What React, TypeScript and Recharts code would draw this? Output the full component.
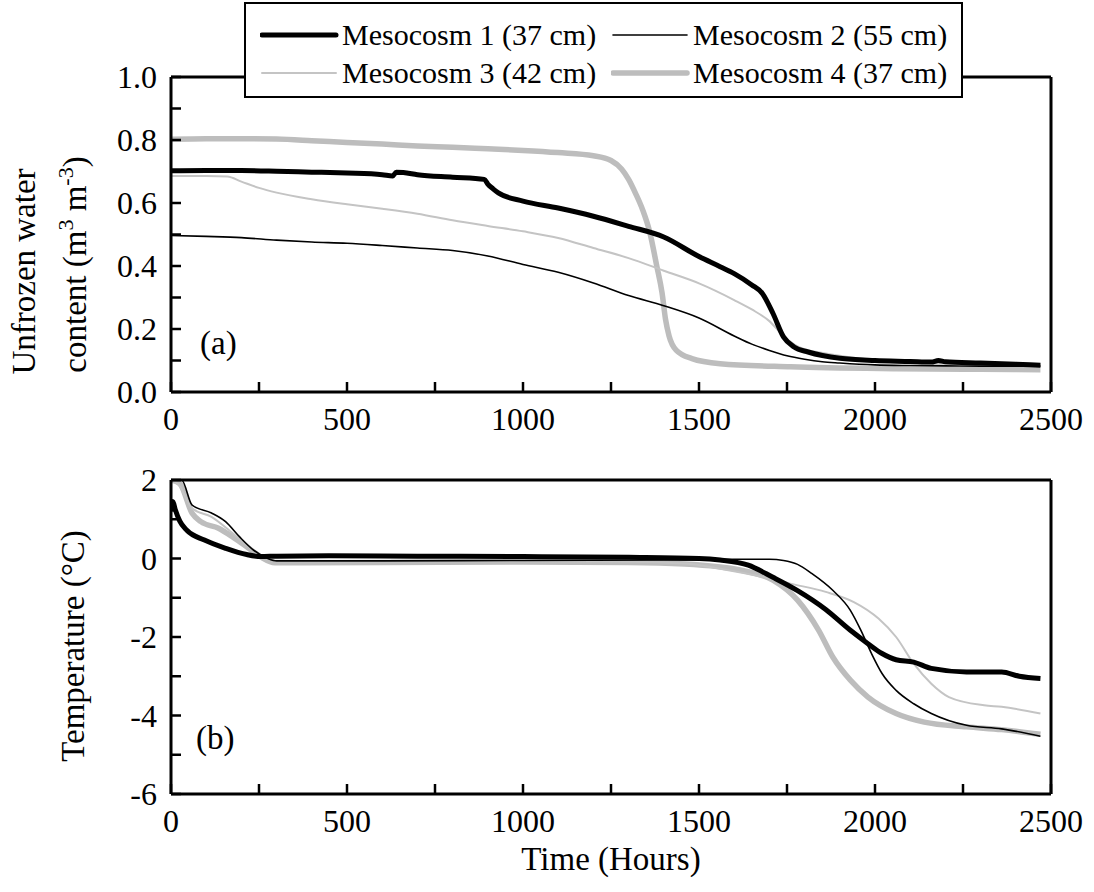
import React from 'react'
import { LineChart, Line, XAxis, YAxis, Label } from 'recharts'

// ---- axis ticks ----
const hourTicks = [0, 250, 500, 750, 1000, 1250, 1500, 1750, 2000, 2250, 2500]
const waterTicks = [0, 0.1, 0.2, 0.3, 0.4, 0.5, 0.6, 0.7, 0.8, 0.9, 1.0]
const tempTicks = [-6, -5, -4, -3, -2, -1, 0, 1, 2]

// ---- (a) unfrozen water content, m3 m-3 ----
const m1WaterHours = [0, 100, 200, 300, 400, 500, 600, 630, 640, 660, 700, 800, 890, 900, 915, 930, 1000, 1100, 1200, 1300, 1400, 1500, 1560, 1600, 1650, 1680, 1710, 1740, 1770, 1810, 1900, 2000, 2100, 2160, 2180, 2200, 2300, 2400, 2470]
const m1Water = [0.702, 0.703, 0.703, 0.701, 0.698, 0.695, 0.690, 0.686, 0.698, 0.697, 0.690, 0.682, 0.675, 0.660, 0.645, 0.632, 0.606, 0.584, 0.558, 0.526, 0.492, 0.430, 0.398, 0.376, 0.340, 0.313, 0.250, 0.175, 0.143, 0.127, 0.107, 0.100, 0.097, 0.095, 0.100, 0.096, 0.092, 0.088, 0.085]

const m2WaterHours = [0, 100, 200, 300, 400, 500, 600, 700, 800, 900, 1000, 1100, 1200, 1300, 1400, 1500, 1600, 1650, 1700, 1750, 1800, 1850, 1900, 2000, 2100, 2200, 2300, 2400, 2470]
const m2Water = [0.497, 0.494, 0.490, 0.482, 0.476, 0.472, 0.465, 0.457, 0.449, 0.432, 0.405, 0.380, 0.346, 0.306, 0.274, 0.235, 0.178, 0.152, 0.132, 0.115, 0.104, 0.096, 0.092, 0.086, 0.084, 0.083, 0.082, 0.082, 0.082]

const m3WaterHours = [0, 100, 160, 200, 250, 300, 400, 500, 600, 700, 800, 900, 1000, 1100, 1200, 1300, 1400, 1500, 1600, 1650, 1700, 1740, 1780, 1860, 1960, 2060, 2200, 2350, 2470]
const m3Water = [0.686, 0.686, 0.684, 0.668, 0.648, 0.633, 0.612, 0.596, 0.582, 0.566, 0.545, 0.527, 0.510, 0.489, 0.457, 0.425, 0.385, 0.345, 0.292, 0.262, 0.225, 0.178, 0.145, 0.122, 0.106, 0.095, 0.090, 0.087, 0.085]

const m4WaterHours = [0, 100, 200, 300, 400, 500, 600, 700, 800, 900, 1000, 1100, 1200, 1250, 1280, 1300, 1320, 1340, 1360, 1380, 1395, 1405, 1415, 1435, 1480, 1560, 1760, 2060, 2300, 2470]
const m4Water = [0.802, 0.804, 0.804, 0.803, 0.798, 0.792, 0.787, 0.781, 0.777, 0.772, 0.767, 0.760, 0.750, 0.735, 0.708, 0.675, 0.630, 0.578, 0.508, 0.400, 0.315, 0.230, 0.178, 0.133, 0.106, 0.090, 0.080, 0.074, 0.072, 0.071]

// ---- (b) temperature, deg C ----
const m1TempHours = [0, 5, 12, 25, 45, 95, 155, 215, 255, 300, 450, 700, 1000, 1300, 1500, 1560, 1640, 1710, 1780, 1860, 1930, 1980, 2020, 2060, 2110, 2160, 2260, 2360, 2410, 2470]
const m1Temp = [1.2, 1.45, 1.25, 0.95, 0.72, 0.47, 0.26, 0.10, 0.05, 0.06, 0.07, 0.06, 0.05, 0.03, 0.0, -0.04, -0.17, -0.48, -0.82, -1.30, -1.83, -2.17, -2.42, -2.58, -2.64, -2.80, -2.89, -2.89, -3.0, -3.06]

const m2TempHours = [0, 30, 60, 115, 155, 195, 235, 275, 300, 600, 1000, 1400, 1600, 1700, 1740, 1780, 1820, 1880, 1930, 1960, 1990, 2020, 2060, 2110, 2160, 2260, 2360, 2470]
const m2Temp = [2.0, 2.0, 1.36, 1.16, 0.94, 0.55, 0.21, 0.0, -0.06, -0.06, -0.05, -0.04, -0.02, -0.02, -0.05, -0.15, -0.38, -0.81, -1.32, -1.83, -2.42, -2.93, -3.36, -3.70, -3.95, -4.25, -4.34, -4.53]

const m3TempHours = [0, 20, 60, 115, 165, 215, 255, 295, 600, 1000, 1300, 1460, 1560, 1700, 1760, 1860, 1940, 2010, 2060, 2110, 2160, 2210, 2310, 2360, 2470]
const m3Temp = [2.0, 1.9, 1.28, 1.06, 0.72, 0.34, 0.09, -0.06, -0.07, -0.07, -0.08, -0.13, -0.26, -0.51, -0.64, -0.85, -1.11, -1.53, -2.00, -2.68, -3.19, -3.53, -3.74, -3.78, -3.95]

const m4TempHours = [0, 25, 60, 85, 135, 175, 215, 255, 295, 600, 1000, 1300, 1460, 1620, 1710, 1780, 1840, 1880, 1930, 1980, 2060, 2140, 2260, 2360, 2470]
const m4Temp = [2.0, 1.91, 1.15, 0.94, 0.77, 0.55, 0.30, 0.04, -0.11, -0.10, -0.09, -0.10, -0.14, -0.30, -0.55, -1.06, -1.83, -2.51, -3.10, -3.53, -3.95, -4.17, -4.29, -4.36, -4.48]

const seriesNames = ['Mesocosm 1 (37 cm)', 'Mesocosm 2 (55 cm)', 'Mesocosm 3 (42 cm)', 'Mesocosm 4 (37 cm)']

const zip = (hours: number[], values: number[]) => hours.map((t, i) => ({ t, v: values[i] }))

const styles = [
  { color: '#000000', width: 5 },
  { color: '#000000', width: 1.6 },
  { color: '#c4c4c4', width: 2 },
  { color: '#bdbdbd', width: 5.5 },
]

const waterSeries = [
  zip(m1WaterHours, m1Water),
  zip(m2WaterHours, m2Water),
  zip(m3WaterHours, m3Water),
  zip(m4WaterHours, m4Water),
]
const tempSeries = [
  zip(m1TempHours, m1Temp),
  zip(m2TempHours, m2Temp),
  zip(m3TempHours, m3Temp),
  zip(m4TempHours, m4Temp),
]

// draw order: greys underneath the blacks
const drawOrder = [3, 2, 0, 1]

const FONT = 'Liberation Serif'
const TICK = 10
const AXIS = { stroke: '#000', strokeWidth: 3 }

// ticks point inward; tickSize 0 puts x/y right on the axis line
const BottomTick = (props: any) => {
  const { x, y, payload, labelled } = props
  const v = payload.value
  return (
    <g>
      <line x1={x} x2={x} y1={y} y2={y - TICK} stroke="#000" strokeWidth={2.5} />
      {labelled && v % 500 === 0 && (
        <text x={x} y={y + 38} textAnchor="middle" style={{ fontFamily: FONT, fontSize: 32 }} fill="#000">
          {v}
        </text>
      )}
    </g>
  )
}

const TopTick = (props: any) => {
  const { x, y } = props
  return <line x1={x} x2={x} y1={y} y2={y + TICK} stroke="#000" strokeWidth={2.5} />
}

const LeftTick = (props: any) => {
  const { x, y, payload, fmt } = props
  const label = fmt(payload.value)
  return (
    <g>
      <line x1={x} x2={x + TICK} y1={y} y2={y} stroke="#000" strokeWidth={2.5} />
      {label !== null && (
        <text x={x - 14} y={y + 11} textAnchor="end" style={{ fontFamily: FONT, fontSize: 32 }} fill="#000">
          {label}
        </text>
      )}
    </g>
  )
}

const RightTick = (props: any) => {
  const { x, y } = props
  return <line x1={x} x2={x - TICK} y1={y} y2={y} stroke="#000" strokeWidth={2.5} />
}

const waterFmt = (v: number) => (Math.round(v * 10) % 2 === 0 ? v.toFixed(1) : null)
const tempFmt = (v: number) => (v % 2 === 0 ? String(v) : null)

const titleStyle = { fontFamily: FONT, fontSize: 33 }

const WaterTitle = (props: any) => {
  const { viewBox } = props
  const cy = viewBox.y + viewBox.height / 2
  return (
    <g fill="#000" style={titleStyle}>
      <text x={35} y={cy + 37} transform={`rotate(-90 35 ${cy + 37})`} textAnchor="middle">
        Unfrozen water
      </text>
      <text x={86} y={cy + 30} transform={`rotate(-90 86 ${cy + 30})`} textAnchor="middle">
        content (m
        <tspan fontSize={22} dy={-13}>3</tspan>
        <tspan dy={13}> m</tspan>
        <tspan fontSize={22} dy={-13}>-3</tspan>
        <tspan dy={13}>)</tspan>
      </text>
    </g>
  )
}

const TempTitle = (props: any) => {
  const { viewBox } = props
  const cy = viewBox.y + viewBox.height / 2 + 9
  return (
    <text x={84} y={cy} transform={`rotate(-90 84 ${cy})`} textAnchor="middle" style={titleStyle} fill="#000">
      Temperature (°C)
    </text>
  )
}

const TimeTitle = (props: any) => {
  const { viewBox } = props
  const cx = viewBox.x + viewBox.width / 2
  return (
    <text x={cx} y={viewBox.y + 76} textAnchor="middle" style={titleStyle} fill="#000">
      Time (Hours)
    </text>
  )
}

const PanelTag = ({ text, left, top }: { text: string; left: number; top: number }) => (
  <div style={{ position: 'absolute', left, top, fontFamily: FONT, fontSize: 33, lineHeight: '33px', color: '#000' }}>
    {text}
  </div>
)

const LegendBox = () => {
  const rows = [
    [0, 1],
    [2, 3],
  ]
  return (
    <div
      style={{
        position: 'absolute',
        left: 244,
        top: 2,
        width: 715,
        height: 92,
        border: '2px solid #000',
        background: '#fff',
        fontFamily: FONT,
        fontSize: 30,
        color: '#000',
      }}
    >
      {rows.map((row, r) =>
        row.map((idx, c) => (
          <div
            key={idx}
            style={{
              position: 'absolute',
              left: c === 0 ? 14 : 365,
              top: r === 0 ? 14 : 52,
              height: 34,
              display: 'flex',
              alignItems: 'center',
              whiteSpace: 'nowrap',
            }}
          >
            <svg width={80} height={34}>
              <line x1={2} x2={76} y1={17} y2={17} stroke={styles[idx].color} strokeWidth={styles[idx].width} strokeLinecap="round" />
            </svg>
            <span style={{ marginLeft: 2 }}>{seriesNames[idx]}</span>
          </div>
        ))
      )}
    </div>
  )
}

const App: React.FC = () => {
  return (
    <div style={{ position: 'absolute', left: 0, top: 0, width: 1094, height: 892, background: '#fff', fontFamily: FONT }}>
      {/* (a) unfrozen water content */}
      <div style={{ position: 'absolute', left: 0, top: 0 }}>
        <LineChart width={1094} height={440} margin={{ top: 67, right: 23, bottom: 8, left: 111 }}>
          <XAxis
            xAxisId="b"
            dataKey="t"
            type="number"
            domain={[0, 2500]}
            ticks={hourTicks}
            allowDataOverflow
            height={40}
            tickSize={0}
            tickMargin={0}
            tickLine={false}
            axisLine={AXIS}
            tick={(p: any) => <BottomTick {...p} labelled />}
            interval={0}
          />
          <XAxis xAxisId="t" orientation="top" type="number" domain={[0, 2500]} height={10} tick={false} tickLine={false} axisLine={AXIS} />
          <YAxis
            yAxisId="l"
            type="number"
            domain={[0, 1]}
            ticks={waterTicks}
            allowDataOverflow
            width={60}
            tickSize={0}
            tickMargin={0}
            tickLine={false}
            axisLine={AXIS}
            tick={(p: any) => <LeftTick {...p} fmt={waterFmt} />}
            interval={0}
          >
            <Label content={<WaterTitle />} />
          </YAxis>
          <YAxis
            yAxisId="r"
            orientation="right"
            type="number"
            domain={[0, 1]}
            ticks={waterTicks}
            width={20}
            tickSize={0}
            tickMargin={0}
            tickLine={false}
            axisLine={AXIS}
            tick={(p: any) => <RightTick {...p} />}
            interval={0}
          />
          {drawOrder.map((i) => (
            <Line
              key={i}
              xAxisId="b"
              yAxisId="l"
              data={waterSeries[i]}
              dataKey="v"
              type="monotone"
              stroke={styles[i].color}
              strokeWidth={styles[i].width}
              dot={false}
              isAnimationActive={false}
            />
          ))}
        </LineChart>
      </div>

      {/* (b) temperature */}
      <div style={{ position: 'absolute', left: 0, top: 440 }}>
        <LineChart width={1094} height={452} margin={{ top: 30, right: 23, bottom: 58, left: 111 }}>
          <XAxis
            xAxisId="b"
            dataKey="t"
            type="number"
            domain={[0, 2500]}
            ticks={hourTicks}
            allowDataOverflow
            height={40}
            tickSize={0}
            tickMargin={0}
            tickLine={false}
            axisLine={AXIS}
            tick={(p: any) => <BottomTick {...p} labelled />}
            interval={0}
          >
            <Label content={<TimeTitle />} />
          </XAxis>
          <XAxis
            xAxisId="t"
            orientation="top"
            type="number"
            domain={[0, 2500]}
            ticks={hourTicks}
            height={10}
            tickSize={0}
            tickMargin={0}
            tickLine={false}
            axisLine={AXIS}
            tick={(p: any) => <TopTick {...p} />}
            interval={0}
          />
          <YAxis
            yAxisId="l"
            type="number"
            domain={[-6, 2]}
            ticks={tempTicks}
            allowDataOverflow
            width={60}
            tickSize={0}
            tickMargin={0}
            tickLine={false}
            axisLine={AXIS}
            tick={(p: any) => <LeftTick {...p} fmt={tempFmt} />}
            interval={0}
          >
            <Label content={<TempTitle />} />
          </YAxis>
          <YAxis
            yAxisId="r"
            orientation="right"
            type="number"
            domain={[-6, 2]}
            ticks={tempTicks}
            width={20}
            tickSize={0}
            tickMargin={0}
            tickLine={false}
            axisLine={AXIS}
            tick={(p: any) => <RightTick {...p} />}
            interval={0}
          />
          {drawOrder.map((i) => (
            <Line
              key={i}
              xAxisId="b"
              yAxisId="l"
              data={tempSeries[i]}
              dataKey="v"
              type="monotone"
              stroke={styles[i].color}
              strokeWidth={styles[i].width}
              dot={false}
              isAnimationActive={false}
            />
          ))}
        </LineChart>
      </div>

      <PanelTag text="(a)" left={200} top={327} />
      <PanelTag text="(b)" left={196} top={722} />
      <LegendBox />
    </div>
  )
}

export default App
